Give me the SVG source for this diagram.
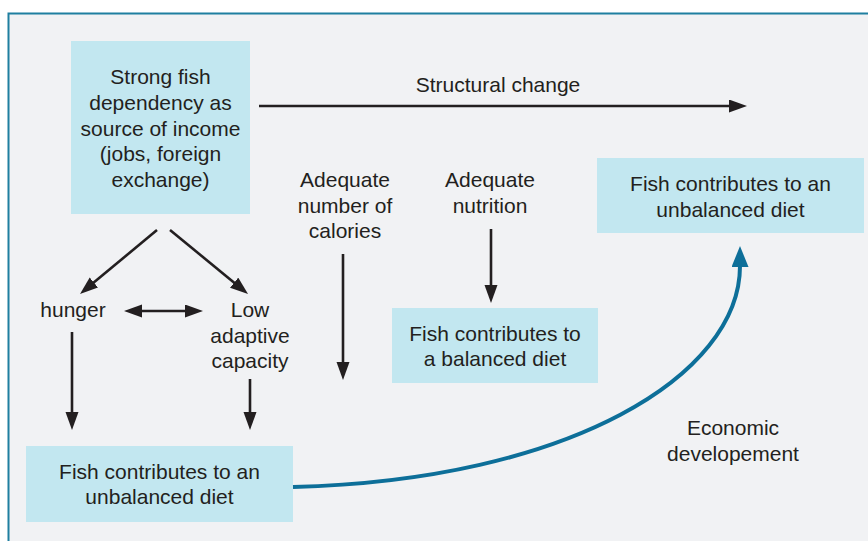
<svg xmlns="http://www.w3.org/2000/svg" width="868" height="541" viewBox="0 0 868 541">
<style>
.t{font-family:"Liberation Sans",Arial,Helvetica,sans-serif;font-size:21px;fill:#231f20;text-anchor:middle}
.box{fill:#c2e7f0}
.ar{stroke:#231f20;stroke-width:2.6;fill:none}
</style>
<defs>
<marker id="ah" markerUnits="userSpaceOnUse" markerWidth="20" markerHeight="14" refX="8" refY="6.5" orient="auto-start-reverse">
<path d="M0,0 L18,6.5 L0,13 z" fill="#231f20"/>
</marker>
<marker id="bh" markerUnits="userSpaceOnUse" markerWidth="22" markerHeight="18" refX="1" refY="8.5" orient="auto">
<path d="M0,0 L21,8.5 L0,17 z" fill="#0d6f99"/>
</marker>
</defs>
<rect width="868" height="541" fill="#ffffff"/>
<rect x="8.5" y="13.5" width="862" height="530" fill="#f1f2f4"/>
<path d="M8.5,545 V13.5 H870" fill="none" stroke="#1f7fa0" stroke-width="2"/>

<g id="source">
<rect class="box" x="71" y="41" width="179" height="173"/>
<text class="t" x="160.5" y="84">Strong fish</text>
<text class="t" x="160.5" y="110">dependency as</text>
<text class="t" x="160.5" y="135.5">source of income</text>
<text class="t" x="160.5" y="161">(jobs, foreign</text>
<text class="t" x="160.5" y="187">exchange)</text>
</g>
<g id="unbalanced-top">
<rect class="box" x="597" y="158" width="267" height="75"/>
<text class="t" x="730.5" y="191">Fish contributes to an</text>
<text class="t" x="730.5" y="217">unbalanced diet</text>
</g>
<g id="balanced">
<rect class="box" x="392" y="308" width="206" height="75"/>
<text class="t" x="495" y="341">Fish contributes to</text>
<text class="t" x="495" y="366">a balanced diet</text>
</g>
<g id="unbalanced-bottom">
<rect class="box" x="26" y="446" width="267" height="76"/>
<text class="t" x="159.5" y="479">Fish contributes to an</text>
<text class="t" x="159.5" y="504">unbalanced diet</text>
</g>
<g id="calories">
<text class="t" x="345" y="187">Adequate</text>
<text class="t" x="345" y="213">number of</text>
<text class="t" x="345" y="238">calories</text>
</g>
<g id="nutrition">
<text class="t" x="490" y="187">Adequate</text>
<text class="t" x="490" y="213">nutrition</text>
</g>
<g id="hunger">
<text class="t" x="73" y="317">hunger</text>
</g>
<g id="low-adaptive">
<text class="t" x="250" y="317">Low</text>
<text class="t" x="250" y="343">adaptive</text>
<text class="t" x="250" y="368">capacity</text>
</g>
<g id="labels">
<text class="t" x="498" y="92">Structural change</text>
<text class="t" x="733" y="435">Economic</text>
<text class="t" x="733" y="461">developement</text>
</g>

<g id="connectors">
<line class="ar" x1="259" y1="106" x2="737" y2="106" marker-end="url(#ah)"/>
<line class="ar" x1="157" y1="230" x2="87.7" y2="287.6" marker-end="url(#ah)"/>
<line class="ar" x1="170" y1="230" x2="240.3" y2="287.7" marker-end="url(#ah)"/>
<line class="ar" x1="134" y1="311" x2="193" y2="311" marker-start="url(#ah)" marker-end="url(#ah)"/>
<line class="ar" x1="72" y1="332" x2="72" y2="420" marker-end="url(#ah)"/>
<line class="ar" x1="250" y1="379" x2="250" y2="420" marker-end="url(#ah)"/>
<line class="ar" x1="343" y1="254" x2="343" y2="370" marker-end="url(#ah)"/>
<line class="ar" x1="491" y1="229" x2="491" y2="293" marker-end="url(#ah)"/>
<path d="M293,487 C570,480 740,375 740,266" fill="none" stroke="#0d6f99" stroke-width="4" marker-end="url(#bh)"/>
</g>
</svg>
